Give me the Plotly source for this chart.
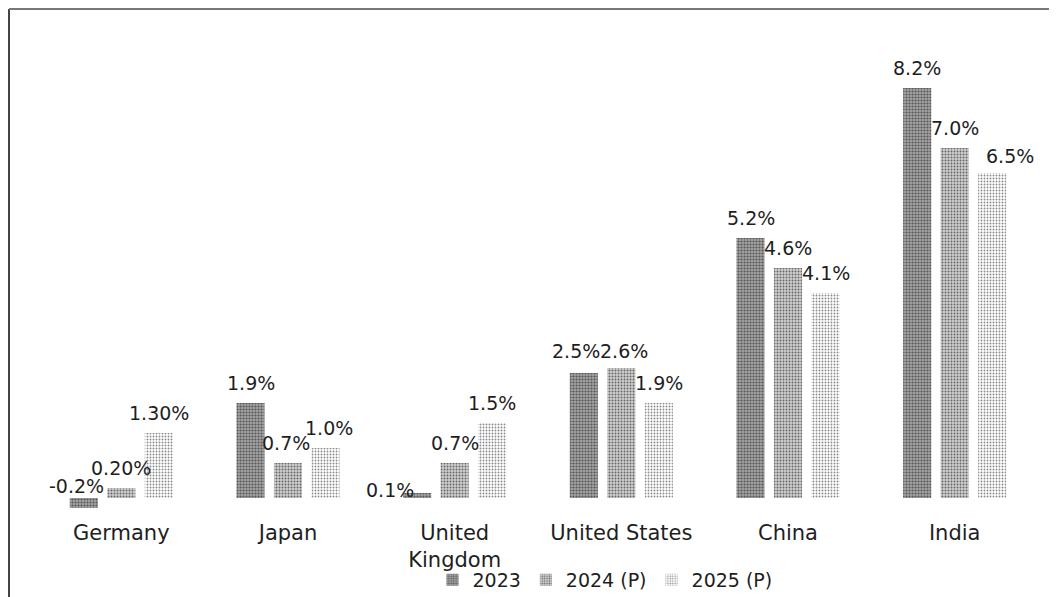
import plotly.graph_objects as go

categories = ["Germany", "Japan", "United<br>Kingdom", "United States", "China", "India"]
series_names = ["2023", "2024 (P)", "2025 (P)"]
v2023 = [-0.2, 1.9, 0.1, 2.5, 5.2, 8.2]
v2024 = [0.2, 0.7, 0.7, 2.6, 4.6, 7.0]
v2025 = [1.3, 1.0, 1.5, 1.9, 4.1, 6.5]
labels2023 = ["-0.2%", "1.9%", "0.1%", "2.5%", "5.2%", "8.2%"]
labels2024 = ["0.20%", "0.7%", "0.7%", "2.6%", "4.6%", "7.0%"]
labels2025 = ["1.30%", "1.0%", "1.5%", "1.9%", "4.1%", "6.5%"]

values = [v2023, v2024, v2025]
labels = [labels2023, labels2024, labels2025]

FONT = "DejaVu Sans"
TXT = "#1e1e1e"

styles = [
    dict(color="#9a9a9a", pattern=dict(shape=".", bgcolor="#a4a4a4", fgcolor="#555555", size=3, solidity=0.4, fillmode="replace")),
    dict(color="#c4c4c4", pattern=dict(shape=".", bgcolor="#d0d0d0", fgcolor="#666666", size=3, solidity=0.33, fillmode="replace")),
    dict(color="#ececec", pattern=dict(shape=".", bgcolor="#ffffff", fgcolor="#8a8a8a", size=3, solidity=0.3, fillmode="replace")),
]

fig = go.Figure()
for name, vals, st in zip(series_names, values, styles):
    fig.add_trace(go.Bar(
        x=categories, y=vals, name=name,
        marker=dict(color=st["color"], pattern=st["pattern"], line=dict(width=0)),
    ))

# label placement (style only)
series_dx = [-37.5, 0, 37.5]
tweaks = {
    (0, 0): (-7, -8),   # Germany 2023
    (0, 2): (-27, -17), # UK 2023
    (0, 3): (-8, 2),
    (1, 3): (3, -3),
    (2, 1): (3, 0),
    (1, 1): (-2, 0),
    (2, 5): (18, -3),
}
annotations = []
for si in range(3):
    for ci, cat in enumerate(categories):
        v = values[si][ci]
        dx, dy = tweaks.get((si, ci), (0, 0))
        annotations.append(dict(
            x=cat, y=max(v, 0), xref="x", yref="y",
            text=labels[si][ci], showarrow=False,
            xshift=series_dx[si] + dx, yshift=20 + dy,
            yanchor="middle", xanchor="center",
            font=dict(family=FONT, size=19, color=TXT),
        ))

L, R, T, B = 30, 27, 40, 87
W, H = 1057, 597
pw = W - L - R
ph = H - T - B
def px_x(x):
    return (x - L) / pw
def px_y(y):
    return (H - B - y) / ph

shapes = [
    dict(type="line", xref="paper", yref="paper", x0=px_x(1), x1=px_x(1), y0=px_y(597), y1=px_y(1),
         line=dict(color="#444444", width=2)),
    dict(type="line", xref="paper", yref="paper", x0=px_x(1), x1=px_x(1057), y0=px_y(1), y1=px_y(1),
         line=dict(color="#777777", width=2)),
]

fig.update_layout(
    width=W, height=H,
    margin=dict(l=L, r=R, t=T, b=B, autoexpand=False),
    paper_bgcolor="white", plot_bgcolor="white",
    barmode="group", bargap=0.325, bargroupgap=0.25,
    font=dict(family=FONT, size=19, color=TXT),
    xaxis=dict(showgrid=False, showline=False, zeroline=False, ticks="", automargin=False,
               tickfont=dict(family=FONT, size=21, color=TXT)),
    yaxis=dict(range=[-0.4, 9.0], visible=False, showgrid=False, zeroline=False, automargin=False),
    legend=dict(orientation="h", x=px_x(597), xanchor="center", y=px_y(572), yanchor="middle",
                font=dict(family=FONT, size=19, color=TXT), bgcolor="rgba(0,0,0,0)",
                itemwidth=30),
    showlegend=True,
    annotations=annotations,
    shapes=shapes,
)

fig.write_html("out.html")
